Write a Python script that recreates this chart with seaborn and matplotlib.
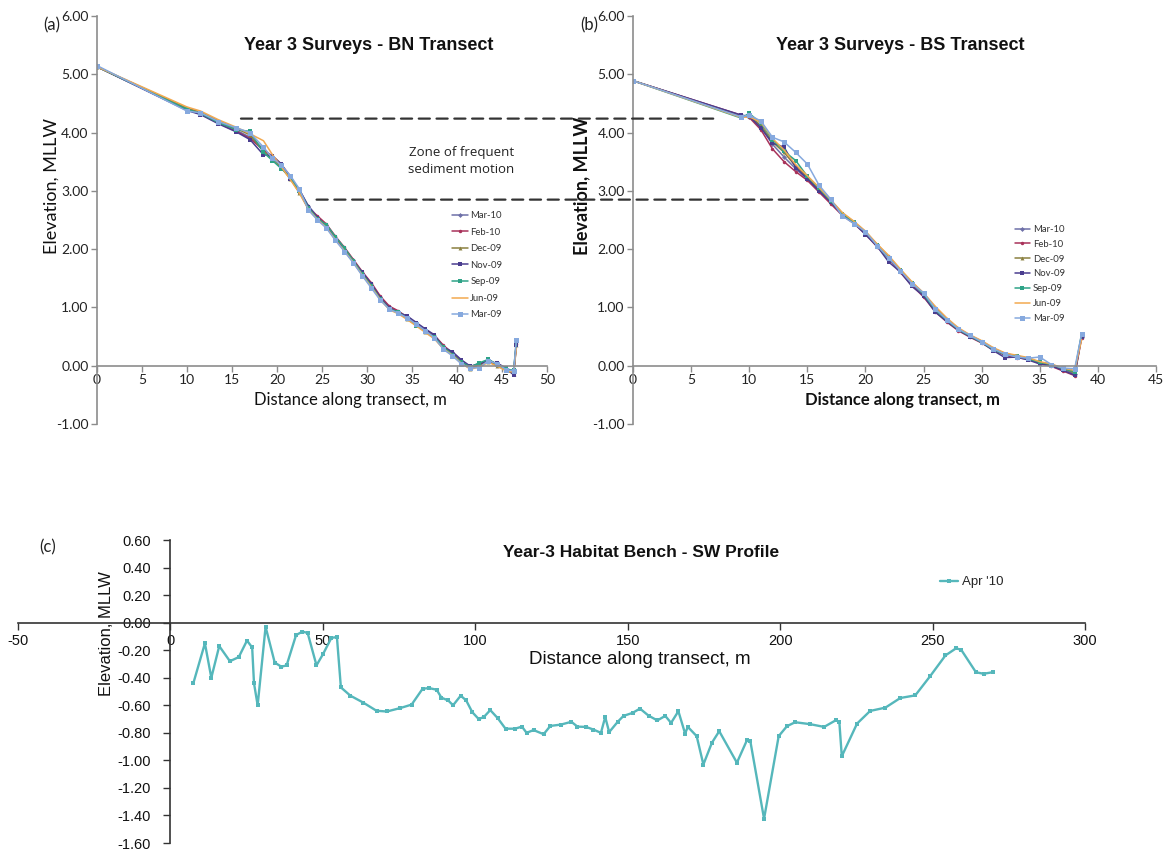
import matplotlib
matplotlib.use("Agg")
import matplotlib.pyplot as plt
import seaborn as sns
import numpy as np
import pandas as pd
from matplotlib.patches import ConnectionPatch
from matplotlib.ticker import FormatStrFormatter, MultipleLocator

# ---------------- data ----------------
series_names = ["Mar-10", "Feb-10", "Dec-09", "Nov-09", "Sep-09", "Jun-09", "Mar-09"]

# Panel (a) BN transect
bn_x = [0, 10, 11.5, 13.5, 15.5, 17, 18.5, 19.5, 20.5, 21.5, 22.5, 23.5, 24.5, 25.5,
        26.5, 27.5, 28.5, 29.5, 30.5, 31.5, 32.5, 33.5, 34.5, 35.5, 36.5, 37.5, 38.5,
        39.5, 40.5, 41.5, 42.5, 43.5, 44.5, 45.5, 46.3, 46.6]
bn_mar10 = [5.13, 4.41, 4.34, 4.19, 4.04, 3.92, 3.72, 3.57, 3.43, 3.24, 3.01, 2.74, 2.56, 2.41, 2.20, 2.01, 1.81, 1.59, 1.39, 1.18, 1.01, 0.93, 0.84, 0.73, 0.62, 0.51, 0.34, 0.23, 0.09, -0.02, 0.03, 0.08, 0.03, -0.05, -0.09, 0.40]
bn_feb10 = [5.13, 4.39, 4.32, 4.16, 4.02, 3.90, 3.70, 3.60, 3.45, 3.25, 2.98, 2.70, 2.57, 2.43, 2.22, 2.03, 1.82, 1.61, 1.42, 1.19, 1.02, 0.94, 0.82, 0.71, 0.60, 0.52, 0.35, 0.21, 0.07, -0.04, 0.01, 0.10, 0.01, -0.07, -0.12, 0.38]
bn_dec09 = [5.13, 4.42, 4.35, 4.20, 4.07, 3.96, 3.68, 3.55, 3.40, 3.20, 2.97, 2.69, 2.53, 2.38, 2.17, 1.98, 1.78, 1.56, 1.36, 1.15, 0.98, 0.90, 0.81, 0.70, 0.58, 0.47, 0.30, 0.20, 0.05, -0.05, 0.00, 0.07, 0.00, -0.08, -0.14, 0.36]
bn_nov09 = [5.13, 4.38, 4.31, 4.15, 4.01, 3.88, 3.62, 3.60, 3.46, 3.21, 3.02, 2.73, 2.54, 2.39, 2.18, 1.99, 1.79, 1.60, 1.40, 1.16, 0.99, 0.91, 0.85, 0.74, 0.63, 0.53, 0.31, 0.24, 0.10, -0.01, 0.04, 0.08, 0.04, -0.04, -0.16, 0.35]
bn_sep09 = [5.13, 4.40, 4.33, 4.17, 4.05, 4.02, 3.66, 3.52, 3.38, 3.23, 2.99, 2.71, 2.52, 2.42, 2.21, 2.02, 1.80, 1.57, 1.37, 1.14, 0.97, 0.92, 0.80, 0.69, 0.59, 0.49, 0.32, 0.19, 0.06, -0.02, 0.05, 0.11, 0.02, -0.06, -0.08, 0.43]
bn_jun09 = [5.13, 4.44, 4.37, 4.22, 4.09, 3.98, 3.86, 3.62, 3.41, 3.19, 2.96, 2.68, 2.51, 2.37, 2.16, 1.97, 1.77, 1.55, 1.35, 1.13, 0.96, 0.89, 0.79, 0.68, 0.57, 0.46, 0.29, 0.18, 0.04, -0.06, -0.02, 0.06, -0.01, -0.09, -0.11, 0.30]
bn_mar09 = [5.15, 4.37, 4.34, 4.19, 4.08, 4.00, 3.75, 3.56, 3.44, 3.26, 3.03, 2.67, 2.50, 2.36, 2.15, 1.96, 1.76, 1.54, 1.33, 1.12, 0.97, 0.90, 0.82, 0.71, 0.60, 0.48, 0.28, 0.17, 0.03, -0.04, -0.03, 0.09, 0.03, -0.07, -0.09, 0.44]

# Panel (b) BS transect
bs_x = [0, 9.3, 10, 11, 12, 13, 14, 15, 16, 17, 18, 19, 20, 21, 22, 23, 24, 25, 26,
        27, 28, 29, 30, 31, 32, 33, 34, 35, 36, 37, 38, 38.6]
bs_mar10 = [4.89, 4.29, 4.27, 4.10, 3.80, 3.58, 3.38, 3.20, 3.02, 2.80, 2.60, 2.46, 2.28, 2.07, 1.87, 1.63, 1.41, 1.22, 0.97, 0.78, 0.63, 0.51, 0.41, 0.29, 0.20, 0.16, 0.12, 0.05, 0.01, -0.06, -0.14, 0.50]
bs_feb10 = [4.89, 4.30, 4.26, 4.05, 3.72, 3.50, 3.33, 3.18, 2.98, 2.78, 2.58, 2.44, 2.26, 2.04, 1.84, 1.60, 1.38, 1.18, 0.93, 0.75, 0.60, 0.49, 0.39, 0.27, 0.18, 0.14, 0.11, 0.04, -0.01, -0.09, -0.17, 0.48]
bs_dec09 = [4.89, 4.28, 4.29, 4.12, 3.84, 3.66, 3.42, 3.24, 3.04, 2.84, 2.62, 2.47, 2.29, 2.08, 1.88, 1.64, 1.43, 1.24, 1.00, 0.80, 0.64, 0.52, 0.42, 0.30, 0.21, 0.17, 0.13, 0.06, 0.02, -0.05, -0.12, 0.53]
bs_nov09 = [4.89, 4.30, 4.28, 4.08, 3.82, 3.75, 3.40, 3.21, 3.00, 2.81, 2.59, 2.45, 2.25, 2.05, 1.78, 1.61, 1.36, 1.20, 0.92, 0.76, 0.61, 0.50, 0.40, 0.26, 0.14, 0.15, 0.10, 0.03, 0.00, -0.08, -0.16, 0.50]
bs_sep09 = [4.89, 4.25, 4.33, 4.16, 3.88, 3.68, 3.52, 3.25, 3.05, 2.83, 2.61, 2.46, 2.30, 2.07, 1.84, 1.65, 1.42, 1.23, 0.96, 0.78, 0.62, 0.51, 0.40, 0.28, 0.19, 0.17, 0.12, 0.06, 0.02, -0.05, -0.10, 0.55]
bs_jun09 = [4.89, 4.26, 4.27, 4.18, 3.90, 3.70, 3.45, 3.26, 3.06, 2.85, 2.63, 2.48, 2.31, 2.09, 1.89, 1.66, 1.44, 1.25, 1.02, 0.82, 0.65, 0.53, 0.43, 0.31, 0.22, 0.18, 0.14, 0.07, 0.03, -0.04, -0.08, 0.45]
bs_mar09 = [4.89, 4.27, 4.30, 4.20, 3.92, 3.84, 3.66, 3.46, 3.10, 2.86, 2.57, 2.44, 2.30, 2.06, 1.85, 1.63, 1.41, 1.25, 0.98, 0.79, 0.63, 0.52, 0.41, 0.29, 0.20, 0.15, 0.13, 0.15, 0.02, -0.04, -0.05, 0.55]

# zone of frequent sediment motion (elevations, MLLW)
zone_top = 4.24
zone_bottom = 2.85

# Panel (c) SW profile, Apr '10
sw_x = [7.5, 11.3, 13.4, 16.0, 19.5, 22.4, 25.1, 26.8, 27.4, 28.6, 31.2, 34.2, 36.4, 38.1,
        41.2, 43.3, 45.0, 47.9, 50.0, 52.8, 54.6, 55.9, 59.0, 63.2, 67.6, 71.0, 75.4, 79.1,
        82.7, 84.8, 87.3, 88.9, 91.1, 92.7, 95.2, 97.0, 99.0, 101.1, 102.8, 104.9, 107.4,
        109.9, 113.0, 115.3, 116.8, 119.1, 122.4, 124.6, 128.1, 131.5, 133.5, 136.3, 138.7,
        141.2, 142.6, 143.9, 146.7, 148.6, 151.6, 154.0, 156.8, 159.7, 162.3, 164.2, 166.6,
        168.8, 169.7, 172.6, 174.8, 177.6, 180.0, 185.8, 189.1, 190.2, 194.7, 199.5, 202.2,
        204.9, 209.8, 214.4, 218.3, 219.4, 220.2, 225.2, 229.5, 234.5, 239.4, 244.3, 249.2,
        254.2, 257.7, 259.4, 264.2, 266.7, 269.7]
sw_y = [-0.44, -0.15, -0.40, -0.17, -0.28, -0.25, -0.13, -0.18, -0.44, -0.60, -0.03, -0.29,
        -0.32, -0.31, -0.09, -0.065, -0.075, -0.31, -0.23, -0.11, -0.105, -0.47, -0.53, -0.58,
        -0.64, -0.645, -0.62, -0.595, -0.48, -0.475, -0.487, -0.545, -0.565, -0.60, -0.53,
        -0.565, -0.65, -0.70, -0.685, -0.635, -0.695, -0.77, -0.77, -0.755, -0.80, -0.78,
        -0.81, -0.75, -0.74, -0.72, -0.755, -0.757, -0.776, -0.80, -0.685, -0.795, -0.72,
        -0.677, -0.655, -0.624, -0.675, -0.71, -0.677, -0.728, -0.643, -0.805, -0.757,
        -0.824, -1.03, -0.872, -0.788, -1.017, -0.853, -0.86, -1.424, -0.824, -0.752, -0.723,
        -0.737, -0.757, -0.708, -0.723, -0.97, -0.733, -0.641, -0.617, -0.547, -0.528,
        -0.388, -0.238, -0.186, -0.198, -0.36, -0.371, -0.36]
sw_label = "Apr '10"

# ---------------- style ----------------
sns.set_style("white")
plt.rcParams["font.family"] = ["Lato", "DejaVu Sans"]
plt.rcParams["axes.unicode_minus"] = False

colors = ["#6E70A8", "#A8325A", "#8A8040", "#4A3D8F", "#2EA387", "#F2A950", "#86A9DE"]
markers = ["D", "o", "^", "s", "s", "", "s"]
msizes = [2.5, 2.5, 2.8, 3.0, 3.2, 0, 3.6]
axis_gray = "#8C8C8C"

fig = plt.figure(figsize=(11.63, 8.52), dpi=100)
ax_a = fig.add_axes([0.0834, 0.5023, 0.3869, 0.4789])
ax_b = fig.add_axes([0.5443, 0.5023, 0.4497, 0.4789])
ax_c = fig.add_axes([0.0155, 0.01056, 0.9175, 0.3556])


def survey_panel(ax, xs, ys_list, xmax, title, title_x, bold, legend_anchor,
                 legend_spacing, xlab_x):
    for name, ys, c, m, ms in zip(series_names, ys_list, colors, markers, msizes):
        kw = dict(marker=m, markersize=ms, markeredgewidth=0) if m else {}
        sns.lineplot(x=xs, y=ys, ax=ax, color=c, linewidth=1.1, label=name,
                     sort=False, estimator=None, **kw)
    ax.set_xlim(0, xmax)
    ax.set_ylim(-1, 6)
    ax.xaxis.set_major_locator(MultipleLocator(5))
    ax.yaxis.set_major_locator(MultipleLocator(1))
    ax.yaxis.set_major_formatter(FormatStrFormatter("%.2f"))
    for s in ["top", "right"]:
        ax.spines[s].set_visible(False)
    ax.spines["bottom"].set_position(("data", 0))
    for s in ["bottom", "left"]:
        ax.spines[s].set_color(axis_gray)
        ax.spines[s].set_linewidth(1.2)
    ax.tick_params(axis="both", colors=axis_gray, labelcolor="#222222", labelsize=10,
                   direction="out", length=4, width=1, pad=2, bottom=True, left=True)
    ax.set_xlabel("Distance along transect, m", fontsize=12,
                  fontweight="bold" if bold else "normal", color="#111111")
    ax.xaxis.set_label_coords(xlab_x, 0.078)
    ax.set_ylabel("Elevation, MLLW", fontsize=13,
                  fontweight="bold" if bold else "normal", color="#111111")
    ax.yaxis.set_label_coords(-0.082, 0.583)
    ax.text(title_x, 0.928, title, transform=ax.transAxes, ha="center", va="center",
            fontsize=13, fontweight="bold", family="Liberation Sans", color="#111111")
    leg = ax.legend(loc="upper left", bbox_to_anchor=legend_anchor, frameon=False,
                    fontsize=6.8, handlelength=1.6, handletextpad=0.3,
                    labelspacing=legend_spacing, borderaxespad=0, borderpad=0)
    for t in leg.get_texts():
        t.set_color("#333333")


survey_panel(ax_a, bn_x,
             [bn_mar10, bn_feb10, bn_dec09, bn_nov09, bn_sep09, bn_jun09, bn_mar09],
             50, "Year 3 Surveys - BN Transect", 0.604, False, (0.79, 0.522), 0.8, 0.563)
survey_panel(ax_b, bs_x,
             [bs_mar10, bs_feb10, bs_dec09, bs_nov09, bs_sep09, bs_jun09, bs_mar09],
             45, "Year 3 Surveys - BS Transect", 0.51, True, (0.73, 0.488), 0.62, 0.516)

ax_a.text(-0.12, 0.965, "(a)", transform=ax_a.transAxes, fontsize=12, color="#222222")
ax_b.text(-0.1, 0.965, "(b)", transform=ax_b.transAxes, fontsize=12, color="#222222")
ax_a.text(0.81, 0.645, "Zone of frequent\nsediment motion", transform=ax_a.transAxes,
          ha="center", va="center", fontsize=9.5, family="Open Sans",
          linespacing=1.45, color="#222222")

# dashed connecting lines for the zone
for ya, xa0, xb1 in [(zone_top, 16.0, 6.9), (zone_bottom, 24.4, 15.1)]:
    con = ConnectionPatch(xyA=(xa0, ya), coordsA=ax_a.transData,
                          xyB=(xb1, ya), coordsB=ax_b.transData,
                          linestyle=(0, (5, 3)), color="#333333", linewidth=1.6)
    fig.add_artist(con)

# ---------------- panel (c) ----------------
teal = "#55B7BB"
sns.lineplot(x=sw_x, y=sw_y, ax=ax_c, color=teal, linewidth=1.7, marker="s",
             markersize=2.6, markeredgewidth=0, label=sw_label, sort=False, estimator=None)
ax_c.set_xlim(-50, 300)
ax_c.set_ylim(-1.6, 0.6)
ax_c.xaxis.set_major_locator(MultipleLocator(50))
ax_c.yaxis.set_major_locator(MultipleLocator(0.2))
ax_c.yaxis.set_major_formatter(FormatStrFormatter("%.2f"))
for s in ["top", "right"]:
    ax_c.spines[s].set_visible(False)
ax_c.spines["bottom"].set_position(("data", 0))
ax_c.spines["left"].set_position(("data", 0))
for s in ["bottom", "left"]:
    ax_c.spines[s].set_color("#333333")
    ax_c.spines[s].set_linewidth(1.2)
ax_c.tick_params(axis="both", colors="#333333", labelcolor="#111111", labelsize=10.5,
                 direction="out", length=5, width=1, bottom=True, left=True)
ax_c.tick_params(axis="y", pad=9)
for lab in ax_c.get_xticklabels() + ax_c.get_yticklabels():
    lab.set_family("Liberation Sans")
ax_c.set_xlabel("Distance along transect, m", fontsize=13.5, family="Liberation Sans",
                color="#111111")
ax_c.xaxis.set_label_coords(0.583, 0.635)
ax_c.set_ylabel("Elevation, MLLW", fontsize=12, family="Liberation Sans", color="#111111")
ax_c.yaxis.set_label_coords(0.09, 0.69)
ax_c.text(0.584, 0.96, "Year-3 Habitat Bench - SW Profile", transform=ax_c.transAxes,
          ha="center", va="center", fontsize=12.5, fontweight="bold",
          family="Liberation Sans", color="#111111")
ax_c.text(0.02, 0.975, "(c)", transform=ax_c.transAxes, ha="left", va="center",
          fontsize=12, color="#222222")
ax_c.legend(loc="center left", bbox_to_anchor=(0.864, 0.861), frameon=False,
            handlelength=1.4, handletextpad=0.3, borderaxespad=0,
            borderpad=0, prop={"family": "Liberation Sans", "size": 9.5})

fig.savefig("out.png", dpi=100, facecolor="white")
